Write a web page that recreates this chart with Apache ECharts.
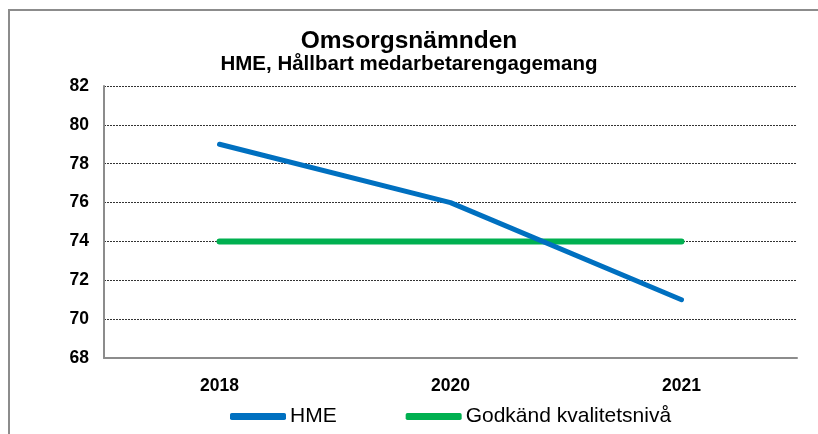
<!DOCTYPE html>
<html lang="sv">
<head>
  <meta charset="utf-8">
  <title>Omsorgsnämnden HME</title>
</head>
<body style="margin: 0; background: #fff">
  <div id="chart_div" style="width: 818px; height: 434px;"></div>
  <script type="text/javascript" src="https://fastly.jsdelivr.net/npm/echarts@6/dist/echarts.min.js"></script>
  <script type="text/javascript">
    var years = ['2018', '2020', '2021'];
    var hme = [79, 76, 71];
    var godkand = [74, 74, 74];
    var yTicks = [68, 70, 72, 74, 76, 78, 80, 82];

    var dom = document.getElementById('chart_div');
    var myChart = echarts.init(dom, null, { renderer: 'canvas' });
    var font = '"Liberation Sans", Arial, sans-serif';

    var option = {
      backgroundColor: '#fff',
      animation: false,
      textStyle: { fontFamily: font },
      graphic: [{
        type: 'rect',
        shape: { x: 9, y: 10, width: 830, height: 440 },
        style: { fill: 'none', stroke: '#8c8c8c', lineWidth: 2 },
        silent: true
      }],
      title: [{
        text: 'Omsorgsnämnden',
        left: 'center',
        top: 24,
        textStyle: { fontFamily: font, fontSize: 24.5, fontWeight: 'bold', color: '#000' }
      }, {
        text: 'HME, Hållbart medarbetarengagemang',
        left: 'center',
        top: 49,
        textStyle: { fontFamily: font, fontSize: 20.5, fontWeight: 'bold', color: '#000' }
      }],
      legend: {
        top: 401,
        left: 225,
        itemWidth: 56,
        itemHeight: 7,
        itemGap: 69,
        icon: 'roundRect',
        textStyle: { fontFamily: font, fontSize: 21, color: '#000', padding: [0, 0, 0, -1] },
        data: ['HME', 'Godkänd kvalitetsnivå']
      },
      grid: { left: 104, right: 21, top: 86, bottom: 76 },
      xAxis: {
        type: 'category',
        data: years,
        boundaryGap: true,
        axisLine: { lineStyle: { color: '#8c8c8c', width: 2 } },
        axisTick: { show: false },
        axisLabel: { margin: 19, fontFamily: font, fontSize: 17.5, fontWeight: 'bold', color: '#000' }
      },
      yAxis: {
        type: 'value',
        min: yTicks[0],
        max: yTicks[yTicks.length - 1],
        interval: 2,
        axisLine: { show: true, lineStyle: { color: '#8c8c8c', width: 2 } },
        axisTick: { show: false },
        axisLabel: { margin: 15, fontFamily: font, fontSize: 17.5, fontWeight: 'bold', color: '#000' },
        splitLine: { lineStyle: { color: '#333', type: [2, 1], width: 1 } }
      },
      series: [{
        name: 'HME',
        type: 'line',
        data: hme,
        symbol: 'none',
        itemStyle: { color: '#0070c0' },
        lineStyle: { color: '#0070c0', width: 5, cap: 'round' },
        z: 3
      }, {
        name: 'Godkänd kvalitetsnivå',
        type: 'line',
        data: godkand,
        symbol: 'none',
        itemStyle: { color: '#00b050' },
        lineStyle: { color: '#00b050', width: 6, cap: 'round' },
        z: 2
      }]
    };
    myChart.setOption(option);
  </script>
</body>
</html>
